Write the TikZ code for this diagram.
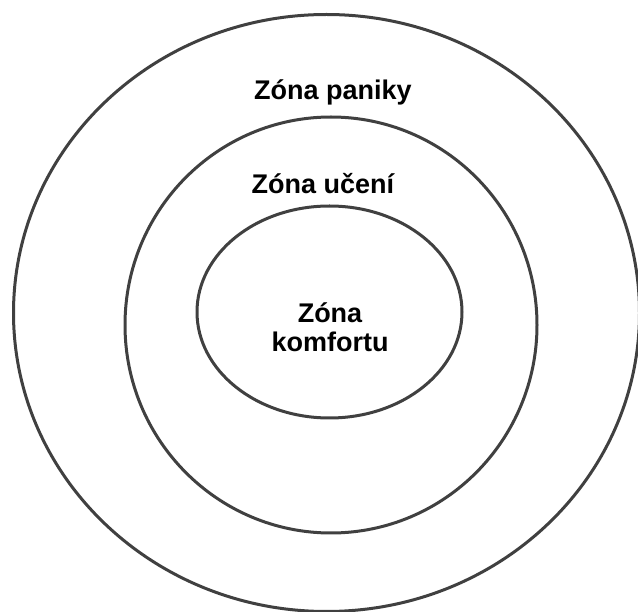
\documentclass[tikz,border=0pt]{standalone}
\usepackage{fontspec}
\setmainfont{Liberation Sans}
\usepackage{xcolor}
\usepackage{tikz}
\usetikzlibrary{positioning}
\definecolor{ring}{HTML}{404040}
\definecolor{ink}{HTML}{000000}
\tikzset{
  zone/.style={draw=ring,line width=3pt},
  zonetext/.style={font=\fontsize{27}{29}\selectfont\bfseries,text=ink,align=center,inner sep=0pt},
}

\begin{document}
\begin{tikzpicture}[x=1pt,y=-1pt]
  \useasboundingbox (0,0) rectangle (638,612);
  \coordinate (panic) at (326.5,313);
  \coordinate (learn) at (331,325);
  \coordinate (comfort) at (329.5,312);
  \draw[zone] (panic) ellipse [x radius=313,y radius=298.5];
  \draw[zone] (learn) ellipse [x radius=206,y radius=208];
  \draw[zone] (comfort) ellipse [x radius=132.5,y radius=106];
  \node[zonetext] (tpanic) at (333,92) {Zóna paniky};
  \node[zonetext] (tlearn) at (323,184) {Zóna učení};
  \node[zonetext] (tcomfort) at (330,327) {Zóna\\komfortu};
\end{tikzpicture}
\end{document}
